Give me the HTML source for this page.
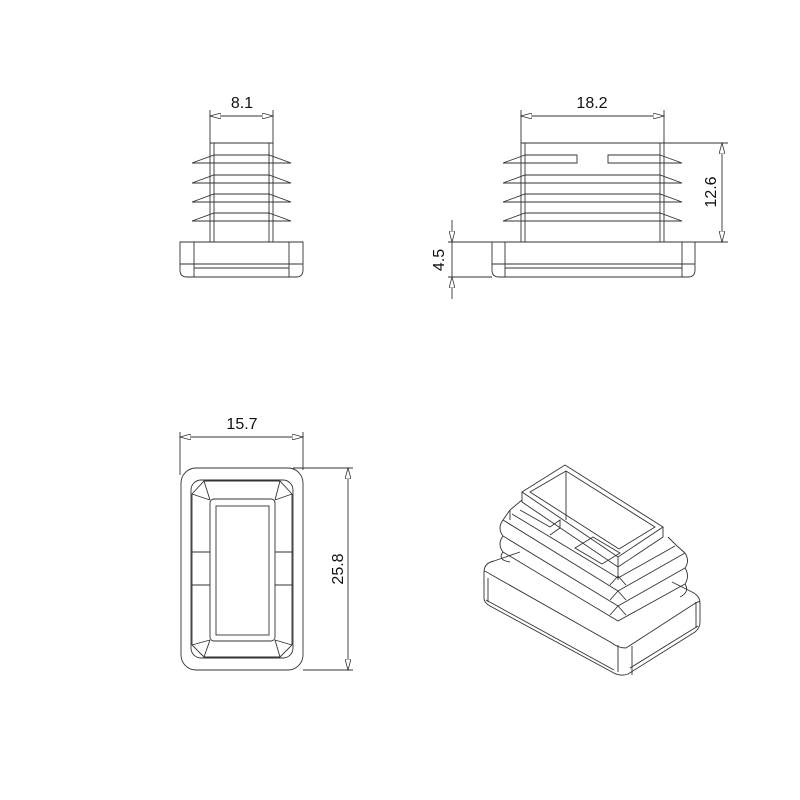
<!DOCTYPE html>
<html><head><meta charset="utf-8"><style>
html,body{margin:0;padding:0;background:#fff;}
svg{display:block}
text{font-family:"Liberation Sans",sans-serif;font-size:16px;fill:#111}
</style></head><body>
<svg width="800" height="800" viewBox="0 0 800 800" xmlns="http://www.w3.org/2000/svg">
<defs>
<marker id="a" markerWidth="12" markerHeight="6" refX="11" refY="3" orient="auto-start-reverse" markerUnits="userSpaceOnUse">
<path d="M0,0 L11,3 L0,6 Z" fill="#fff" stroke="#333" stroke-width="0.8"/>
</marker>
</defs>
<g fill="none" stroke="#333" stroke-width="0.9">
<!-- VIEW 1 -->
<line x1="210" y1="116" x2="273" y2="116" marker-start="url(#a)" marker-end="url(#a)"/>
<line x1="210" y1="110" x2="210" y2="143"/><line x1="273" y1="110" x2="273" y2="143"/>
<text x="242" y="108" text-anchor="middle" stroke="none">8.1</text>
<line x1="210" y1="143" x2="273" y2="143"/>
<line x1="210" y1="143" x2="210" y2="242"/><line x1="214" y1="143" x2="214" y2="242"/>
<line x1="269" y1="143" x2="269" y2="242"/><line x1="273" y1="143" x2="273" y2="242"/>
<path d="M192,163 L214,155 L269,155 L291,163 Z M214,163 L269,163"/>
<path d="M192,183 L214,175 L269,175 L291,183 Z"/>
<path d="M192,202 L214,194 L269,194 L291,202 Z"/>
<path d="M192,221 L214,213 L269,213 L291,221 Z"/>
<path d="M180,242 L303,242 L303,270 Q303,277 296,277 L187,277 Q180,277 180,270 Z"/>
<line x1="194" y1="242" x2="194" y2="277"/><line x1="289" y1="242" x2="289" y2="277"/>
<line x1="180" y1="264" x2="303" y2="264"/><line x1="194" y1="268" x2="289" y2="268"/>
<!-- VIEW 2 -->
<line x1="521" y1="116" x2="664" y2="116" marker-start="url(#a)" marker-end="url(#a)"/>
<line x1="521" y1="110" x2="521" y2="143"/><line x1="664" y1="110" x2="664" y2="143"/>
<text x="592" y="108" text-anchor="middle" stroke="none">18.2</text>
<line x1="521" y1="143" x2="664" y2="143"/>
<line x1="521" y1="143" x2="521" y2="242"/><line x1="525" y1="143" x2="525" y2="242"/>
<line x1="660" y1="143" x2="660" y2="242"/><line x1="664" y1="143" x2="664" y2="242"/>
<path d="M525,155 L577,155 L577,163 L525,163 M660,155 L608,155 L608,163 L660,163"/>
<path d="M503,163 L525,155 M503,163 L525,163 M682,163 L660,155 M682,163 L660,163"/>
<path d="M503,183 L525,175 L660,175 L682,183 Z"/>
<path d="M503,202 L525,194 L660,194 L682,202 Z"/>
<path d="M503,221 L525,213 L660,213 L682,221 Z"/>
<path d="M492,242 L695,242 L695,270 Q695,277 688,277 L499,277 Q492,277 492,270 Z"/>
<line x1="505" y1="242" x2="505" y2="277"/><line x1="682" y1="242" x2="682" y2="277"/>
<line x1="492" y1="264" x2="695" y2="264"/><line x1="505" y1="268" x2="682" y2="268"/>
<line x1="664" y1="143" x2="728" y2="143"/><line x1="695" y1="242" x2="728" y2="242"/>
<line x1="722" y1="143" x2="722" y2="242" marker-start="url(#a)" marker-end="url(#a)"/>
<text transform="translate(716,192) rotate(-90)" text-anchor="middle" stroke="none">12.6</text>
<line x1="448" y1="242" x2="492" y2="242"/><line x1="448" y1="277" x2="492" y2="277"/>
<line x1="452" y1="220" x2="452" y2="242" marker-end="url(#a)"/>
<line x1="452" y1="299" x2="452" y2="277" marker-end="url(#a)"/>
<line x1="452" y1="242" x2="452" y2="277"/>
<text transform="translate(444,260) rotate(-90)" text-anchor="middle" stroke="none">4.5</text>
<!-- VIEW 3 -->
<line x1="180" y1="437" x2="303" y2="437" marker-start="url(#a)" marker-end="url(#a)"/>
<line x1="180" y1="432" x2="180" y2="475"/><line x1="303" y1="432" x2="303" y2="470"/>
<text x="242" y="429" text-anchor="middle" stroke="none">15.7</text>
<rect x="181" y="468" width="122" height="202" rx="15"/>
<rect x="191" y="480" width="102" height="178" rx="10"/>
<path d="M204,481 L280,481 L292,494 L292,645 L280,657 L204,657 L192,645 L192,494 Z"/>
<path d="M192,494 L210,500 M292,494 L275,500 M192,645 L210,640 M292,645 L275,640 M204,481 L210,500 M280,481 L275,500 M204,657 L210,640 M280,657 L275,640"/>
<rect x="210" y="499" width="65" height="142" rx="4"/>
<rect x="216" y="506" width="53" height="129"/>
<path d="M192,552 L210,552 M192,585 L210,585 M275,552 L292,552 M275,585 L292,585"/>
<line x1="293" y1="468" x2="353" y2="468"/><line x1="303" y1="670" x2="353" y2="670"/>
<line x1="348" y1="468" x2="348" y2="670" marker-start="url(#a)" marker-end="url(#a)"/>
<text transform="translate(343,569) rotate(-90)" text-anchor="middle" stroke="none">25.8</text>
<!-- ISO VIEW -->
<path d="M484,572 Q484,563 494,561 L520,552 M626,648 Q618,648 612,643 L490,574 Q484,570 484,572"/>
<path d="M484,572 L484,598 Q484,603 490,606 L612,672 Q620,677 628,674 L695,632 Q700,628 700,622 L700,603 Q700,597 694,593 L672,582"/>
<path d="M626,648 L694,604 Q700,600 700,603"/>
<path d="M618,645 L618,672 M632,646 L632,675 M488,578 L488,602 M696,602 L696,628"/>
<path d="M486,600 L614,670 M630,668 L698,626"/>
<path d="M503,520 L618,591 L685,553 M503,536 L618,606 L685,568 M503,552 L618,621 L685,584"/>
<path d="M503,520 Q497,528 503,536 Q497,544 503,552 Q497,560 510,562"/>
<path d="M685,553 Q690,561 685,568 Q690,576 685,584 Q690,592 680,597"/>
<path d="M610,585 L618,576 L626,585 M610,600 L618,591 L626,600 M610,615 L618,606 L626,615"/>
<path d="M512,514 L618,578 L675,546"/>
<path d="M503,520 L510,510 L522,500 M685,553 L676,545 L668,537"/>
<path d="M510,510 L510,520"/>
<path d="M520,510 L550,527 L560,520 L560,528 L550,535"/>
<path d="M575,548 L593,537 L620,553 L602,564 Z"/>
<path d="M522,492 L565,465 L663,527 L618,557 Z"/>
<path d="M530,492 L566,471 L655,527 L619,549 Z"/>
<path d="M522,492 L522,502 L618,567 L663,537 L663,527 M618,557 L618,567"/>
<path d="M566,471 L566,520"/>
<path d="M618,567 L618,580"/>
</g>
</svg>
</body></html>
